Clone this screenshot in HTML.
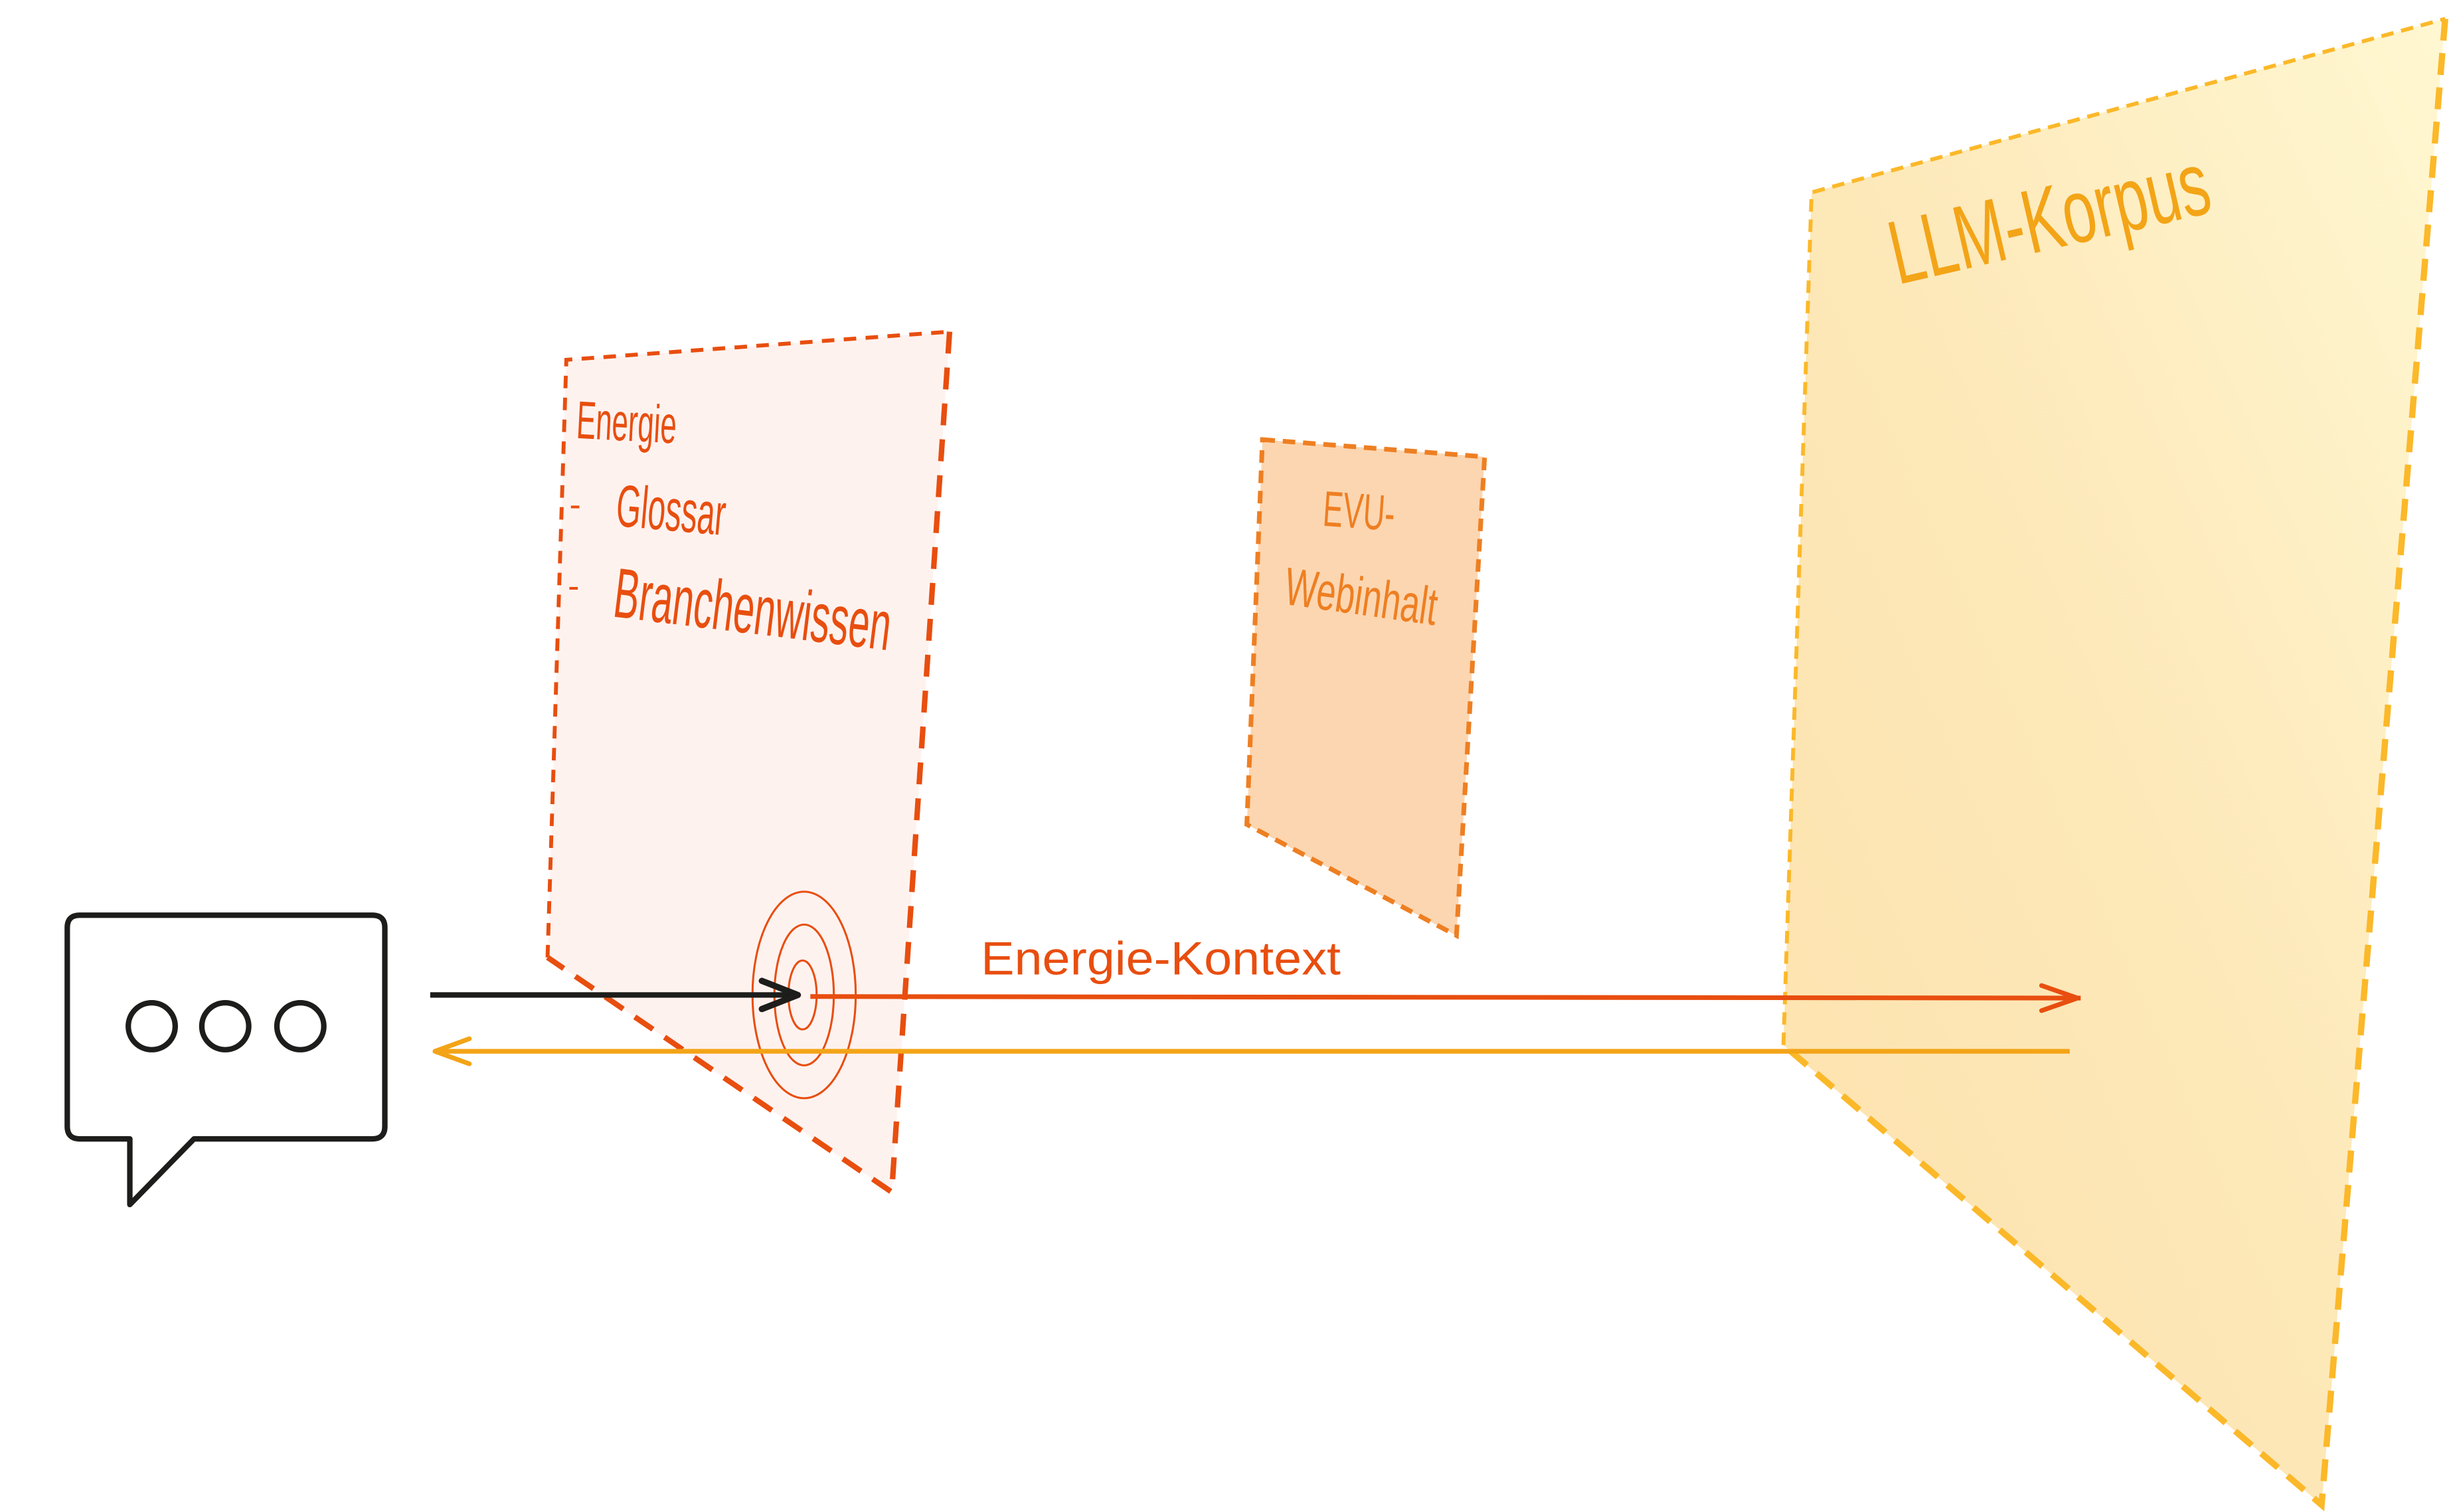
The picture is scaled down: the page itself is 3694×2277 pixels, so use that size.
<!DOCTYPE html>
<html><head><meta charset="utf-8"><style>
html,body{margin:0;padding:0;background:#fff;}
svg{display:block;}
.c{font-family:"Liberation Sans",sans-serif;}
</style></head><body>
<svg width="3694" height="2277" viewBox="0 0 1568 966.5" xmlns="http://www.w3.org/2000/svg">
<defs>
<linearGradient id="llm" x1="1" y1="0" x2="0" y2="1">
<stop offset="0" stop-color="#fff7cf"/><stop offset="0.5" stop-color="#fde7b5"/><stop offset="1" stop-color="#fde0a8"/>
</linearGradient>
</defs>
<!-- LLM panel -->
<polygon points="1158,123 1563,12 1484,962 1140,668" fill="url(#llm)" opacity="0.95"/>
<path d="M1140,668 L1158,123 L1563,12" fill="none" stroke="#fbb829" stroke-width="2.5" stroke-dasharray="8,5"/>
<path d="M1563,12 L1484,962 L1140,668" fill="none" stroke="#fbb829" stroke-width="4" stroke-dasharray="14,8"/>
<text class="c" font-size="58" fill="#f3a417" transform="translate(1213,182) rotate(-13)" textLength="208" lengthAdjust="spacingAndGlyphs">LLM-Korpus</text>
<!-- EVU panel -->
<polygon points="807,281 949,292 931,598 797,527" fill="#fcd6b1"/>
<polygon points="807,281 949,292 931,598 797,527" fill="none" stroke="#ee7f22" stroke-width="3" stroke-dasharray="8,5"/>
<text class="c" font-size="32" fill="#ee7f22" transform="translate(845,336) rotate(4)" textLength="46" lengthAdjust="spacingAndGlyphs">EVU-</text>
<text class="c" font-size="34" fill="#ee7f22" transform="translate(820,386) rotate(8)" textLength="98" lengthAdjust="spacingAndGlyphs">Webinhalt</text>
<!-- Energie panel -->
<polygon points="362,230 607,212 570,762 350,612" fill="#fef2ef"/>
<path d="M350,612 L362,230 L607,212" fill="none" stroke="#e84e0f" stroke-width="2.5" stroke-dasharray="8,6"/>
<path d="M607,212 L570,762 L350,612" fill="none" stroke="#e84e0f" stroke-width="3.5" stroke-dasharray="14,9"/>
<text class="c" font-size="34" fill="#e84e0f" transform="translate(368,280) rotate(3)" textLength="64" lengthAdjust="spacingAndGlyphs">Energie</text>
<text class="c" font-size="22" fill="#e84e0f" x="364" y="330">-</text>
<text class="c" font-size="38" fill="#e84e0f" transform="translate(393,336) rotate(5)" textLength="70" lengthAdjust="spacingAndGlyphs">Glossar</text>
<text class="c" font-size="22" fill="#e84e0f" x="363" y="382">-</text>
<text class="c" font-size="45" fill="#e84e0f" transform="translate(391,394) rotate(7)" textLength="178" lengthAdjust="spacingAndGlyphs">Branchenwissen</text>
<!-- target -->
<g fill="none" stroke="#e84e0f" stroke-width="1.3">
<ellipse cx="514" cy="636" rx="33" ry="66"/>
<ellipse cx="514" cy="636" rx="19" ry="45"/>
<ellipse cx="513" cy="636" rx="9" ry="22"/>
</g>
<!-- arrows -->
<line x1="275" y1="636" x2="510" y2="636" stroke="#1d1d1b" stroke-width="3.5"/>
<polyline points="487,627 510,636 487,645" fill="none" stroke="#1d1d1b" stroke-width="4" stroke-linecap="round" stroke-linejoin="round"/>
<line x1="518" y1="637" x2="1330" y2="638" stroke="#e84e0f" stroke-width="3"/>
<polyline points="1305,630 1328,638 1305,646" fill="none" stroke="#e84e0f" stroke-width="3" stroke-linecap="round" stroke-linejoin="round"/>
<line x1="1323" y1="672" x2="279" y2="672" stroke="#f3a417" stroke-width="3"/>
<polyline points="300,664 278,672 300,680" fill="none" stroke="#f3a417" stroke-width="3" stroke-linecap="round" stroke-linejoin="round"/>
<text font-family="Liberation Sans, sans-serif" font-size="30" fill="#e84e0f" x="627" y="623" textLength="230" lengthAdjust="spacingAndGlyphs">Energie-Kontext</text>
<!-- speech bubble -->
<path d="M51,585 H238 Q246,585 246,593 V720 Q246,728 238,728 H124 L83,770 V728 H51 Q43,728 43,720 V593 Q43,585 51,585 Z" fill="#fff" stroke="#1d1d1b" stroke-width="3.5" stroke-linejoin="round"/>
<circle cx="97" cy="656" r="15" fill="none" stroke="#1d1d1b" stroke-width="3.5"/>
<circle cx="144" cy="656" r="15" fill="none" stroke="#1d1d1b" stroke-width="3.5"/>
<circle cx="192" cy="656" r="15" fill="none" stroke="#1d1d1b" stroke-width="3.5"/>
</svg>
</body></html>
